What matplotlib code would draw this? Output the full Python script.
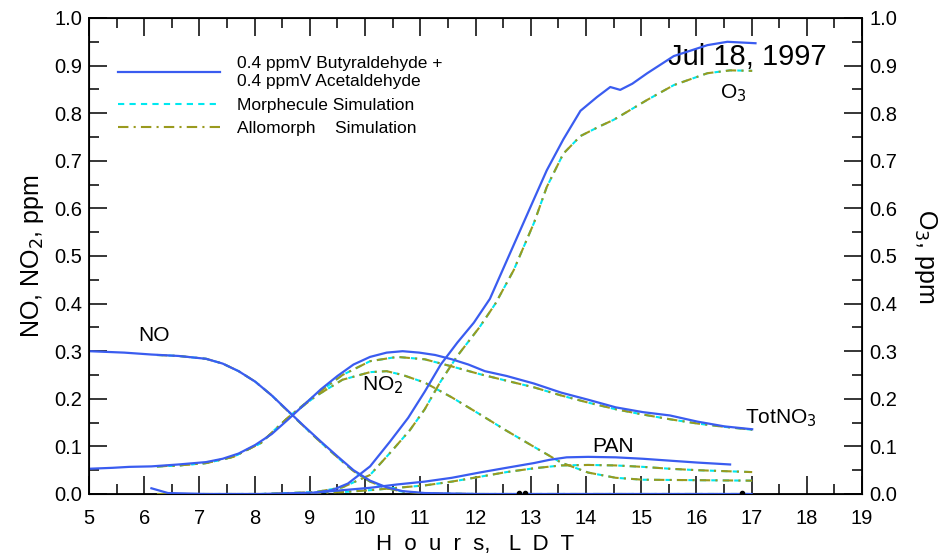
import matplotlib
matplotlib.use('Agg')
import matplotlib.pyplot as plt
from matplotlib.ticker import MultipleLocator

plt.rcParams['font.family'] = ['Liberation Sans', 'DejaVu Sans']

# observed (blue)
t_no = [5.0, 5.64, 6.13, 6.62, 7.12, 7.42, 7.71, 8.01, 8.31, 8.6, 8.9, 9.2, 9.5, 9.79, 10.09, 10.39, 10.68,
        11.08, 12.07, 17.0]
no_obs = [0.300, 0.297, 0.293, 0.290, 0.284, 0.274, 0.258, 0.236, 0.207, 0.175, 0.142, 0.110, 0.079, 0.050,
          0.028, 0.014, 0.006, 0.002, 0.0, 0.0]

t_no2 = [5.0, 5.43, 5.73, 6.13, 6.62, 7.12, 7.42, 7.71, 8.01, 8.31, 8.6, 8.9, 9.2, 9.5, 9.79, 10.09, 10.39,
         10.68, 10.98, 11.27, 11.57, 11.87, 12.17, 12.56, 13.06, 13.55, 14.04, 14.54, 15.03, 15.52, 16.02,
         16.51, 17.01]
no2_obs = [0.053, 0.055, 0.057, 0.058, 0.062, 0.067, 0.074, 0.085, 0.103, 0.126, 0.156, 0.188, 0.220, 0.248,
           0.272, 0.288, 0.297, 0.300, 0.297, 0.292, 0.283, 0.272, 0.258, 0.248, 0.232, 0.213, 0.198, 0.182,
           0.172, 0.165, 0.152, 0.142, 0.136]

t_o3 = [6.13, 6.43, 7.12, 8.11, 9.1, 9.4, 9.69, 10.09, 10.45, 10.78, 11.08, 11.37, 11.67, 11.97, 12.26, 12.66,
        13.06, 13.29, 13.59, 13.9, 14.2, 14.44, 14.62, 14.84, 15.11, 15.59, 16.2, 16.56, 17.07]
o3_obs = [0.012, 0.002, 0.0, 0.0, 0.003, 0.008, 0.022, 0.058, 0.11, 0.16, 0.215, 0.272, 0.318, 0.36, 0.41,
          0.515, 0.62, 0.68, 0.745, 0.805, 0.834, 0.855, 0.849, 0.862, 0.884, 0.92, 0.943, 0.950, 0.947]

t_pan = [9.1, 9.59, 10.09, 10.58, 11.08, 11.57, 12.07, 12.56, 13.06, 13.35, 13.65, 14.04, 14.54, 15.03, 15.52,
         16.02, 16.61]
pan_obs = [0.003, 0.008, 0.013, 0.020, 0.026, 0.034, 0.045, 0.055, 0.065, 0.072, 0.077, 0.078, 0.077, 0.074,
           0.070, 0.066, 0.062]

# simulations (both mechanisms nearly identical)
t_no_sim = [6.23, 6.62, 7.12, 7.42, 7.71, 8.01, 8.31, 8.6, 8.9, 9.2, 9.5, 9.79, 10.09, 10.39, 10.68, 11.08,
            12.07, 17.0]
no_sim = [0.292, 0.290, 0.284, 0.274, 0.258, 0.236, 0.207, 0.174, 0.141, 0.108, 0.077, 0.048, 0.026, 0.012,
          0.005, 0.001, 0.0, 0.0]

t_tot_sim = [6.23, 6.62, 7.12, 7.61, 8.11, 8.6, 9.1, 9.59, 10.09, 10.58, 11.08, 11.57, 12.07, 12.56, 13.06,
             13.55, 14.04, 14.54, 15.03, 15.52, 16.02, 16.51, 17.01]
tot_sim = [0.058, 0.060, 0.065, 0.078, 0.107, 0.160, 0.208, 0.250, 0.279, 0.288, 0.283, 0.268, 0.252, 0.238,
           0.224, 0.207, 0.192, 0.178, 0.167, 0.157, 0.148, 0.141, 0.135]

t_no2_sim = [6.23, 6.62, 7.12, 7.61, 8.11, 8.6, 9.1, 9.59, 10.09, 10.39, 10.68, 11.08, 11.57, 12.07, 12.56,
             13.06, 13.55, 14.04, 14.54, 15.03, 16.02, 17.01]
no2_sim = [0.058, 0.060, 0.065, 0.078, 0.107, 0.160, 0.205, 0.240, 0.256, 0.258, 0.250, 0.234, 0.203, 0.168,
           0.133, 0.099, 0.066, 0.045, 0.034, 0.030, 0.029, 0.028]

t_o3_sim = [6.23, 8.11, 9.1, 9.59, 10.09, 10.48, 10.81, 11.08, 11.36, 11.67, 12.07, 12.36, 12.69, 13.06, 13.29,
            13.59, 13.9, 14.24, 14.5, 15.11, 15.59, 16.2, 16.61, 17.01]
o3_sim = [0.0, 0.0, 0.004, 0.014, 0.04, 0.09, 0.134, 0.178, 0.235, 0.29, 0.35, 0.40, 0.47, 0.57, 0.645, 0.715,
          0.752, 0.772, 0.786, 0.828, 0.859, 0.884, 0.890, 0.889]

t_pan_sim = [8.6, 9.1, 9.59, 10.09, 10.58, 11.08, 11.57, 12.07, 12.56, 13.06, 13.55, 14.04, 14.54, 15.03,
             15.52, 16.02, 16.51, 17.01]
pan_sim = [0.0, 0.002, 0.004, 0.008, 0.013, 0.018, 0.026, 0.036, 0.046, 0.054, 0.060, 0.061, 0.060, 0.057,
           0.053, 0.050, 0.048, 0.046]

# small black marks near zero
t_dots = [12.78, 12.9, 16.82]
v_dots = [0.003, 0.002, 0.003]

x_ticks = list(range(5, 20))
y_ticks = [i / 10 for i in range(11)]

blue = '#3a5cf0'
cyan = '#00e8f0'
olive = '#9a9a1e'

fig = plt.figure(figsize=(9.44, 5.59), dpi=100)
ax = fig.add_axes([0.0943, 0.1163, 0.8189, 0.8515])

sims = [(t_no_sim, no_sim), (t_tot_sim, tot_sim), (t_no2_sim, no2_sim), (t_o3_sim, o3_sim), (t_pan_sim, pan_sim)]
for i, (t, v) in enumerate(sims):
    ax.plot(t, v, color=cyan, lw=1.5, dashes=(3, 2.5), label='Morphecule Simulation' if i == 0 else None, zorder=2)
for i, (t, v) in enumerate(sims):
    ax.plot(t, v, color=olive, lw=1.5, dashes=(5, 2.5, 1, 2.5), label='Allomorph    Simulation' if i == 0 else None, zorder=3)

obs = [(t_no, no_obs), (t_no2, no2_obs), (t_o3, o3_obs), (t_pan, pan_obs)]
for i, (t, v) in enumerate(obs):
    ax.plot(t, v, color=blue, lw=1.6,
            label='0.4 ppmV Butyraldehyde +\n0.4 ppmV Acetaldehyde' if i == 0 else None, zorder=4)
ax.plot(t_dots, v_dots, 'o', color='black', ms=3, zorder=5)

ax.set_xlim(5, 19)
ax.set_ylim(0, 1.0)
ax.set_xticks(x_ticks)
ax.set_xticklabels([str(x) for x in x_ticks])
ax.xaxis.set_minor_locator(MultipleLocator(0.5))
ax.set_yticks(y_ticks)
ax.set_yticklabels(['%.1f' % y for y in y_ticks])
ax.yaxis.set_minor_locator(MultipleLocator(0.05))
ax.tick_params(which='both', direction='in', top=True, right=False, labelsize=14.5, width=1.1)
ax.tick_params(which='major', length=13)
ax.tick_params(which='minor', length=7)
ax.tick_params(axis='x', pad=11)
ax.tick_params(axis='y', pad=5)

ax2 = ax.twinx()
ax2.set_ylim(0, 1.0)
ax2.set_yticks(y_ticks)
ax2.set_yticklabels(['%.1f' % y for y in y_ticks])
ax2.yaxis.set_minor_locator(MultipleLocator(0.05))
ax2.tick_params(which='both', direction='in', labelsize=14.5, width=1.1, pad=5)
ax2.tick_params(which='major', length=13)
ax2.tick_params(which='minor', length=7)
ax2.set_ylabel('O$_3$, ppm', fontsize=18, rotation=270, labelpad=30)

ax.set_xlabel('H  o  u  r  s,   L  D  T', fontsize=16, labelpad=4)
ax.set_ylabel('NO, NO$_2$, ppm', fontsize=18, labelpad=6)

handles, labels = ax.get_legend_handles_labels()
order = [2, 0, 1]
ax.legend([handles[k] for k in order], [labels[k] for k in order], loc='upper left',
          bbox_to_anchor=(0.028, 0.934), frameon=False, fontsize=12.5, handlelength=5.9,
          handletextpad=1.0, labelspacing=0.5, borderaxespad=0)

ax.text(15.49, 0.918, 'Jul 18, 1997', fontsize=21, ha='left', va='center')
ax.text(16.43, 0.843, 'O$_3$', fontsize=15, ha='left', va='center')
ax.text(5.89, 0.334, 'NO', fontsize=15, ha='left', va='center')
ax.text(9.95, 0.229, 'NO$_2$', fontsize=15, ha='left', va='center')
ax.text(14.11, 0.099, 'PAN', fontsize=15, ha='left', va='center')
ax.text(16.88, 0.16, 'TotNO$_3$', fontsize=15, ha='left', va='center')

for sp in ax.spines.values():
    sp.set_linewidth(1.3)

fig.savefig('out.png', dpi=100)
